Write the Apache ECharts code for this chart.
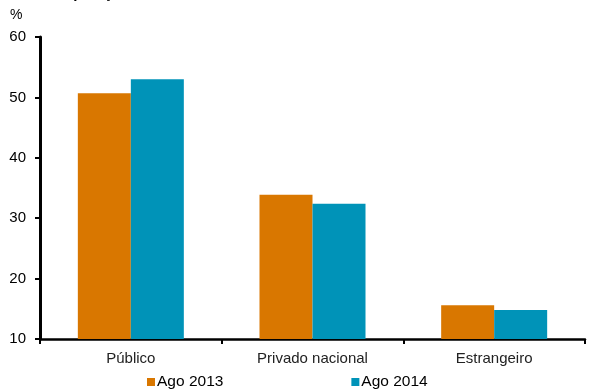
<!DOCTYPE html>
<html>
<head>
<meta charset="utf-8">
<script src="https://cdn.jsdelivr.net/npm/echarts@6/dist/echarts.min.js"></script>
<style>
  html, body { margin: 0; padding: 0; background: #fff; }
  #chart { width: 598px; height: 390px; }
</style>
</head>
<body>
<div id="chart"></div>
<script>
// Credit share by bank ownership (%)
const categories = ['Público', 'Privado nacional', 'Estrangeiro'];
const seriesNames = ['Ago 2013', 'Ago 2014'];
const ago2013 = [50.7, 33.9, 15.6];
const ago2014 = [53.0, 32.4, 14.8];
const yTicks = [10, 20, 30, 40, 50, 60];

const colors = ['#D97700', '#0093B8'];
const font = 'Liberation Sans, Arial, sans-serif';

const chart = echarts.init(document.getElementById('chart'), null, { renderer: 'canvas' });

chart.setOption({
  animation: false,
  backgroundColor: '#ffffff',
  graphic: [
    {
      type: 'text',
      left: 40,
      top: -14,
      style: {
        text: 'Composição do crédito do Sistema Financeiro',
        font: 'bold 15px ' + font,
        fill: '#000'
      }
    },
    {
      type: 'text',
      left: 10,
      top: 8,
      style: { text: '%', font: '14px ' + font, fill: '#000' }
    }
  ],
  legend: {
    top: 369,
    left: 142,
    itemGap: 128,
    itemWidth: 8,
    itemHeight: 8,
    icon: 'rect',
    textStyle: { fontFamily: font, fontSize: 15.5, color: '#000', padding: [0, 0, 0, -3] },
    data: seriesNames
  },
  grid: { left: 40, right: 13, top: 37, bottom: 51, containLabel: false },
  xAxis: {
    type: 'category',
    data: categories,
    axisLine: { lineStyle: { color: '#000', width: 2.5 } },
    axisTick: { show: true, length: 5, lineStyle: { color: '#000', width: 2 } },
    axisLabel: { fontFamily: font, fontSize: 15, color: '#222', margin: 12 }
  },
  yAxis: {
    type: 'value',
    min: yTicks[0],
    max: yTicks[yTicks.length - 1],
    interval: 10,
    axisLine: { show: true, lineStyle: { color: '#000', width: 3 } },
    axisTick: { show: true, inside: false, length: 5, lineStyle: { color: '#000', width: 2 } },
    axisLabel: { fontFamily: font, fontSize: 15, color: '#000', margin: 14 },
    splitLine: { show: false }
  },
  series: [
    {
      name: seriesNames[0],
      type: 'bar',
      data: ago2013,
      barWidth: 53,
      barGap: '0%',
      itemStyle: { color: colors[0] }
    },
    {
      name: seriesNames[1],
      type: 'bar',
      data: ago2014,
      barWidth: 53,
      barGap: '0%',
      itemStyle: { color: colors[1] }
    }
  ]
});
</script>
</body>
</html>
